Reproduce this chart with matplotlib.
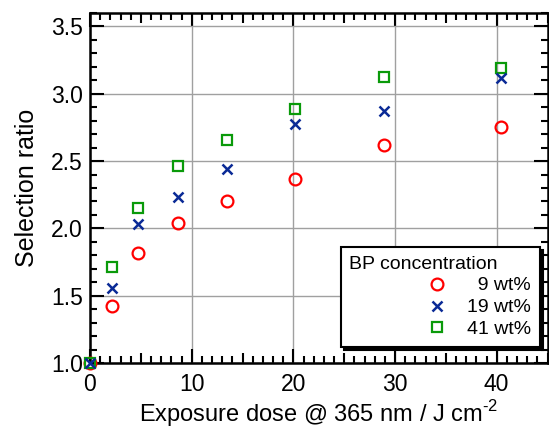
import matplotlib
matplotlib.use("Agg")
import matplotlib.pyplot as plt
from matplotlib.ticker import MultipleLocator

plt.rcParams['font.family'] = ['Liberation Sans', 'DejaVu Sans']
plt.rcParams['mathtext.fontset'] = 'custom'
plt.rcParams['mathtext.rm'] = 'Liberation Sans'

dose = [0, 2.2, 4.75, 8.7, 13.5, 20.2, 28.9, 40.4]
ratio_9 = [1.0, 1.42, 1.82, 2.04, 2.20, 2.37, 2.62, 2.75]
ratio_19 = [1.0, 1.56, 2.03, 2.23, 2.44, 2.775, 2.875, 3.115]
ratio_41 = [1.0, 1.715, 2.155, 2.465, 2.655, 2.885, 3.125, 3.195]
labels = ["  9 wt%", "19 wt%", "41 wt%"]
legend_title = "BP concentration"

fig = plt.figure(figsize=(5.49, 4.29), dpi=100)
ax = fig.add_axes([90/549, 1-363/429, 457.5/549, 350/429])

ax.grid(True, which='major', color='#a0a0a0', linewidth=1.0)
ax.set_axisbelow(True)

h1, = ax.plot(dose, ratio_9, linestyle='none', marker='o', markersize=8.5,
              markerfacecolor='none', markeredgecolor='#ff0000', markeredgewidth=1.6,
              clip_on=False, zorder=3)
h2, = ax.plot(dose, ratio_19, linestyle='none', marker='x', markersize=7.5,
              markeredgecolor='#0a2a96', markeredgewidth=1.8, clip_on=False, zorder=4)
h3, = ax.plot(dose, ratio_41, linestyle='none', marker='s', markersize=7.5,
              markerfacecolor='none', markeredgecolor='#0a9a0a', markeredgewidth=1.6,
              clip_on=False, zorder=3)

ax.set_xlim(0, 45)
ax.set_ylim(1.0, 3.6)
ax.xaxis.set_major_locator(MultipleLocator(10))
ax.xaxis.set_minor_locator(MultipleLocator(1))
ax.yaxis.set_major_locator(MultipleLocator(0.5))
ax.yaxis.set_minor_locator(MultipleLocator(0.1))
ax.yaxis.set_major_formatter(matplotlib.ticker.FormatStrFormatter('%.1f'))

for s in ax.spines.values():
    s.set_linewidth(1.8)

ax.tick_params(which='both', direction='in', top=True, right=True, width=1.5,
               labelsize=16.5)
ax.tick_params(which='major', length=10)
ax.tick_params(which='minor', length=5)
ax.tick_params(axis='x', which='major', pad=7)
ax.tick_params(axis='y', which='major', pad=5)

# medium ticks at multiples of 5 on x
locs = ax.xaxis.get_minorticklocs()
mticks = ax.xaxis.get_minor_ticks(len(locs))
for loc, t in zip(locs, mticks):
    if abs(loc % 5) < 1e-6:
        t.tick1line.set_markersize(7.5)
        t.tick2line.set_markersize(7.5)

ax.set_xlabel("Exposure dose @ 365 nm / J cm$^{\\mathregular{\\text{-}2}}$", fontsize=17, labelpad=2)
ax.set_ylabel("Selection ratio", fontsize=18, labelpad=9)

leg = ax.legend([h1, h2, h3], labels, title=legend_title, loc='lower right',
                bbox_to_anchor=(0.9836, 0.0457), borderaxespad=0, fontsize=14,
                title_fontsize=14, alignment='left', fancybox=False, framealpha=1,
                edgecolor='black', shadow={'color': 'black', 'alpha': 1},
                handlelength=9.0, handletextpad=-2.95, labelspacing=0.22,
                borderpad=0.45)
leg.get_frame().set_linewidth(1.5)

fig.savefig("out.png", dpi=100)
